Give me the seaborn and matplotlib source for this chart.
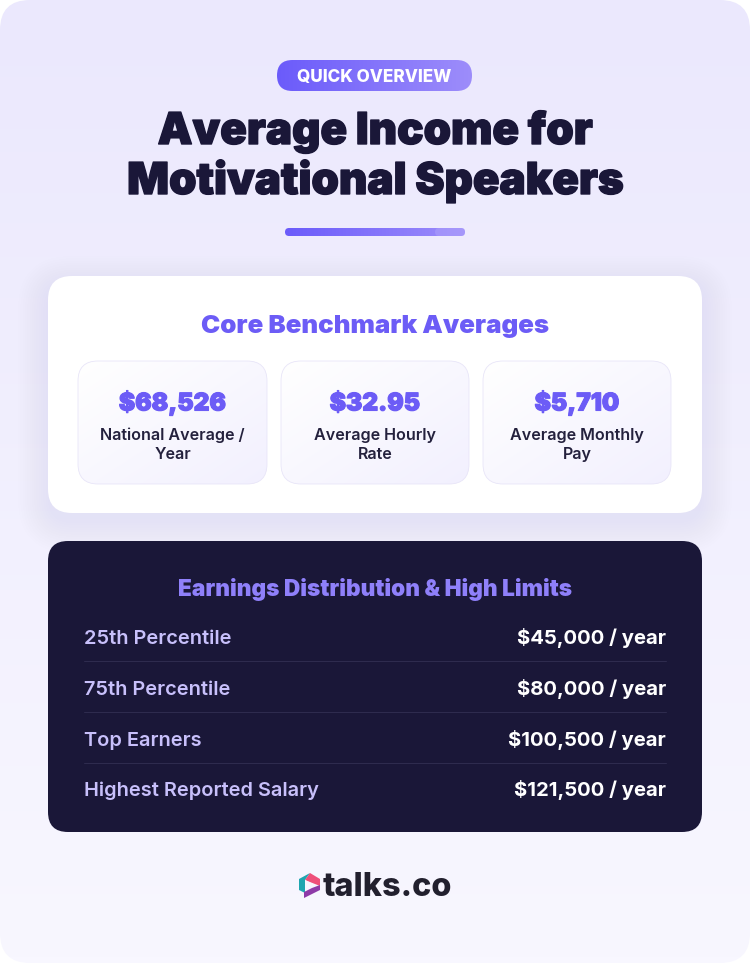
import numpy as np
import matplotlib
matplotlib.use("Agg")
import matplotlib.pyplot as plt
from matplotlib.patches import FancyBboxPatch, Polygon
import matplotlib.patheffects as pe
import seaborn as sns

badge_text = "QUICK OVERVIEW"
title_lines = ["Average Income for", "Motivational Speakers"]
core_heading = "Core Benchmark Averages"
core_values = ["$68,526", "$32.95", "$5,710"]
core_labels = ["National Average /\nYear", "Average Hourly\nRate", "Average Monthly\nPay"]
dist_heading = "Earnings Distribution & High Limits"
dist_labels = ["25th Percentile", "75th Percentile", "Top Earners", "Highest Reported Salary"]
dist_values = ["$45,000 / year", "$80,000 / year", "$100,500 / year", "$121,500 / year"]
brand = "talks.co"

W, H = 750, 963
sns.set_theme(style="white")
fig = plt.figure(figsize=(W/100, H/100), dpi=100, facecolor="white")
ax = fig.add_axes([0, 0, 1, 1])
ax.set_xlim(0, W); ax.set_ylim(H, 0)
sns.despine(ax=ax, left=True, bottom=True)
ax.set_xticks([]); ax.set_yticks([])
ax.set_facecolor("white")

HEAD = "Inter"; BODY = "Inter"
DARK = "#1A1738"; PURPLE = "#6C5CF6"


def rrect(x0, y0, x1, y1, r, **kw):
    p = FancyBboxPatch((x0 + r, y0 + r), x1 - x0 - 2*r, y1 - y0 - 2*r,
                       boxstyle=f"round,pad={r},rounding_size={r}", linewidth=kw.pop("lw", 0), **kw)
    ax.add_patch(p)
    return p


def grad(x0, y0, x1, y1, r, colors, mode="h", z=1):
    clip = rrect(x0, y0, x1, y1, r, facecolor="none", zorder=z)
    t = np.linspace(0, 1, 256)
    if mode == "h":
        arr = t[None, :]
    elif mode == "v":
        arr = t[:, None]
    else:
        arr = (t[None, :] + t[:, None]) / 2
    cmap = sns.blend_palette(colors, as_cmap=True)
    im = ax.imshow(arr, extent=(x0, x1, y1, y0), cmap=cmap, vmin=0, vmax=1,
                   aspect="auto", zorder=z, interpolation="bilinear")
    im.set_clip_path(clip)
    ax.set_xlim(0, W); ax.set_ylim(H, 0)
    return im


def shadow(x0, y0, x1, y1, r, color, spread, dy, alpha, z):
    for s in np.linspace(spread, 0, 14):
        rrect(x0 - s, y0 - s + dy, x1 + s, y1 + s + dy, r + s, facecolor=color, alpha=alpha, zorder=z)


# page background
grad(0, 0, W, H, 30, ["#EBE8FD", "#F8F7FF"], "v", z=1)

# badge
grad(277, 60, 472, 91, 15.5, ["#6B5BFA", "#9D8DFB"], "h", z=2)
ax.text(374.5, 75.5, badge_text, ha="center", va="center_baseline", color="white",
        fontsize=12.3, fontfamily=BODY, fontweight=800, zorder=3)

# title
for line, yy in zip(title_lines, [144, 194]):
    ax.text(375, yy, line, ha="center", va="baseline", color=DARK, fontsize=31.6,
            fontfamily=HEAD, fontweight=900, zorder=3,
            path_effects=[pe.withStroke(linewidth=1.0, foreground=DARK)])

# underline
grad(285, 228, 465, 236, 4, ["#6B5BFA", "#9D8DFB"], "h", z=2)
rrect(435, 228, 465, 236, 4, facecolor="#B5A9FC", alpha=0.4, zorder=2.5)

# white card
shadow(48, 276, 702, 513, 24, "#6C5CF6", 30, 10, 0.0022, 1.5)
rrect(48, 276, 702, 513, 24, facecolor="white", zorder=2)
ax.text(375, 333, core_heading, ha="center", va="baseline", color=PURPLE, fontsize=18.65,
        fontfamily=HEAD, fontweight=900, zorder=3)

card_x = [(78, 267), (281, 469), (483, 671)]
for (x0, x1), val, lab in zip(card_x, core_values, core_labels):
    grad(x0, 361, x1, 484, 20, ["#FFFFFF", "#F2F0FE"], "d", z=3)
    rrect(x0, 361, x1, 484, 20, facecolor="none", edgecolor="#E8E5F8", lw=0.6, zorder=3.2)
    cx = (x0 + x1) / 2
    ax.text(cx, 410.5, val, ha="center", va="baseline", color=PURPLE, fontsize=17.6,
            fontfamily=HEAD, fontweight=900, zorder=4,
            path_effects=[pe.withStroke(linewidth=0.8, foreground=PURPLE)])
    for ln, yy in zip(lab.split("\n"), [440, 459]):
        ax.text(cx, yy, ln, ha="center", va="baseline", color="#24213D", fontsize=11.6,
                fontfamily=BODY, fontweight=600, zorder=4)

# dark card
rrect(48, 541, 702, 832, 20, facecolor=DARK, zorder=2)
ax.text(375, 596, dist_heading, ha="center", va="baseline", color="#8F80FA", fontsize=16.3,
        fontfamily=HEAD, fontweight=900, zorder=3)
row_base = [644, 695, 746, 796]
for i, (lab, val, yy) in enumerate(zip(dist_labels, dist_values, row_base)):
    ax.text(84, yy, lab, ha="left", va="baseline", color="#C8C0FB", fontsize=14.4,
            fontfamily=BODY, fontweight=600, zorder=3)
    ax.text(666, yy, val, ha="right", va="baseline", color="white", fontsize=14.6,
            fontfamily=BODY, fontweight="bold", zorder=3)
    if i < 3:
        ax.plot([84, 666], [yy + 17.5] * 2, color="#2F2C4F", lw=0.7, zorder=3)

# logo
ax.add_patch(Polygon([(310, 873), (299, 879), (299, 890), (305, 893), (305, 880)], closed=True,
                     facecolor="#1FA6B0", lw=0, zorder=3))
ax.add_patch(Polygon([(310, 873), (320, 879), (320, 886), (305, 880)], closed=True,
                     facecolor="#EE4F7A", lw=0, zorder=3))
ax.add_patch(Polygon([(320, 885), (320, 890), (310, 895), (304, 898), (304, 892), (312, 888)], closed=True,
                     facecolor="#8E3AA8", lw=0, zorder=3))
ax.add_patch(Polygon([(305, 880), (315, 885), (305, 891)], closed=True, facecolor="#F7F6FF", lw=0, zorder=3.2))
ax.text(323, 896, brand, ha="left", va="baseline", color="#22202E", fontsize=23.3,
        fontfamily=HEAD, fontweight=800, zorder=3)

fig.savefig("out.png", dpi=100, facecolor="white")
